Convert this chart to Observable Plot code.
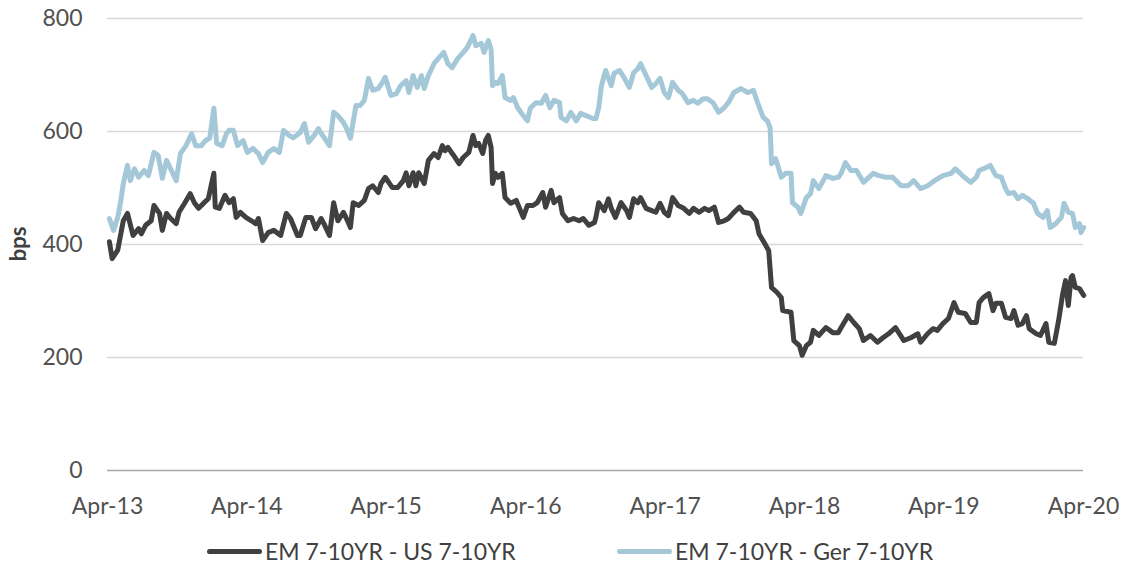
<!DOCTYPE html>
<html>
<head>
<meta charset="utf-8">
<script src="https://cdn.jsdelivr.net/npm/d3@7"></script>
<script src="https://cdn.jsdelivr.net/npm/@observablehq/plot@0.6"></script>
<style>
  html, body { margin: 0; padding: 0; background: #fff; }
  #wrap { position: relative; width: 1121px; height: 568px; font-family: Lato, "Open Sans", sans-serif; color: #505050; }
  .leg { position: absolute; top: 537px; display: flex; align-items: center; font-size: 23px; color: #404040; white-space: nowrap; }
  .sw { display: inline-block; width: 55px; height: 5px; border-radius: 3px; margin-right: 3px; }
</style>
</head>
<body>
<div id="wrap"></div>
<script>
// Series names (legend order)
const seriesNames = ["EM 7-10YR - US 7-10YR", "EM 7-10YR - Ger 7-10YR"];
const seriesColors = ["#404040", "#a5c8d8"];

// [decimal year, bps]
const usSeries = [
  [2013.26,405],[2013.28,375],[2013.32,390],[2013.36,442],[2013.39,455],[2013.43,416],[2013.47,428],[2013.49,419],
  [2013.52,434],[2013.56,442],[2013.58,469],[2013.62,455],[2013.64,425],[2013.67,455],[2013.70,446],[2013.74,437],
  [2013.76,457],[2013.80,473],[2013.84,490],[2013.87,474],[2013.90,464],[2013.94,474],[2013.97,481],[2014.01,526],
  [2014.02,466],[2014.05,464],[2014.09,487],[2014.12,474],[2014.15,481],[2014.17,448],[2014.20,457],[2014.24,448],
  [2014.28,442],[2014.31,437],[2014.33,446],[2014.36,407],[2014.40,421],[2014.44,425],[2014.49,416],[2014.53,455],
  [2014.56,446],[2014.61,416],[2014.63,416],[2014.67,448],[2014.71,448],[2014.74,428],[2014.78,446],[2014.80,437],
  [2014.84,416],[2014.87,474],[2014.90,442],[2014.94,457],[2014.97,442],[2014.99,430],[2015.01,474],[2015.05,469],
  [2015.09,478],[2015.12,499],[2015.15,504],[2015.19,492],[2015.21,508],[2015.24,519],[2015.29,501],[2015.33,501],
  [2015.37,513],[2015.39,527],[2015.41,504],[2015.44,527],[2015.46,504],[2015.48,527],[2015.52,508],[2015.55,549],
  [2015.59,561],[2015.62,554],[2015.65,575],[2015.67,566],[2015.69,572],[2015.73,558],[2015.77,543],[2015.80,554],
  [2015.84,563],[2015.87,593],[2015.89,575],[2015.91,579],[2015.94,561],[2015.96,584],[2015.98,593],[2016.00,572],
  [2016.01,508],[2016.03,526],[2016.05,519],[2016.08,526],[2016.10,483],[2016.14,473],[2016.18,478],[2016.20,466],
  [2016.23,448],[2016.26,469],[2016.30,469],[2016.33,474],[2016.37,492],[2016.39,466],[2016.43,496],[2016.45,474],
  [2016.49,483],[2016.51,455],[2016.55,442],[2016.59,446],[2016.63,442],[2016.66,446],[2016.70,434],[2016.74,439],
  [2016.75,448],[2016.77,474],[2016.81,460],[2016.84,481],[2016.86,464],[2016.89,448],[2016.93,474],[2016.97,460],
  [2016.99,448],[2017.02,481],[2017.05,474],[2017.07,483],[2017.11,464],[2017.15,460],[2017.18,457],[2017.21,473],
  [2017.24,457],[2017.27,451],[2017.30,483],[2017.34,469],[2017.38,464],[2017.42,455],[2017.45,464],[2017.49,457],
  [2017.53,464],[2017.56,460],[2017.60,466],[2017.63,439],[2017.67,442],[2017.70,446],[2017.74,457],[2017.78,466],
  [2017.81,457],[2017.86,455],[2017.90,442],[2017.92,419],[2017.96,402],[2017.99,389],[2018.01,324],[2018.05,315],
  [2018.08,306],[2018.09,283],[2018.15,280],[2018.17,230],[2018.21,221],[2018.23,204],[2018.26,221],[2018.29,227],
  [2018.31,248],[2018.35,239],[2018.40,253],[2018.45,244],[2018.49,244],[2018.51,253],[2018.56,274],[2018.60,262],
  [2018.64,251],[2018.67,230],[2018.72,239],[2018.77,227],[2018.81,235],[2018.85,242],[2018.90,253],[2018.96,230],
  [2019.01,235],[2019.06,242],[2019.08,227],[2019.13,242],[2019.17,251],[2019.20,248],[2019.24,260],[2019.28,269],
  [2019.32,297],[2019.35,280],[2019.40,278],[2019.44,262],[2019.48,262],[2019.50,297],[2019.53,306],[2019.57,313],
  [2019.60,283],[2019.62,296],[2019.66,296],[2019.69,271],[2019.73,269],[2019.75,283],[2019.78,257],[2019.81,260],
  [2019.84,274],[2019.86,251],[2019.91,242],[2019.94,239],[2019.98,260],[2020.00,227],[2020.04,225],[2020.07,265],
  [2020.10,313],[2020.12,336],[2020.14,292],[2020.16,342],[2020.17,345],[2020.19,324],[2020.22,322],[2020.25,310]
];

const gerSeries = [
  [2013.26,446],[2013.29,425],[2013.32,448],[2013.34,474],[2013.36,508],[2013.39,540],[2013.41,513],[2013.44,534],
  [2013.47,519],[2013.51,531],[2013.54,522],[2013.58,563],[2013.61,558],[2013.64,517],[2013.67,549],[2013.70,534],
  [2013.74,513],[2013.77,561],[2013.81,575],[2013.85,596],[2013.88,575],[2013.92,575],[2013.95,584],[2013.98,588],
  [2014.01,641],[2014.03,579],[2014.07,575],[2014.10,596],[2014.12,602],[2014.15,602],[2014.18,575],[2014.22,584],
  [2014.25,563],[2014.29,570],[2014.33,561],[2014.36,545],[2014.40,563],[2014.44,570],[2014.48,563],[2014.51,602],
  [2014.55,593],[2014.58,589],[2014.63,598],[2014.66,614],[2014.69,581],[2014.73,593],[2014.76,605],[2014.79,593],
  [2014.84,575],[2014.87,634],[2014.90,628],[2014.94,616],[2014.96,607],[2014.99,588],[2015.03,646],[2015.06,646],
  [2015.09,655],[2015.12,694],[2015.15,673],[2015.19,676],[2015.22,687],[2015.24,696],[2015.28,664],[2015.32,667],
  [2015.35,681],[2015.39,690],[2015.41,669],[2015.44,699],[2015.47,678],[2015.50,699],[2015.52,676],[2015.55,699],
  [2015.59,720],[2015.62,729],[2015.66,740],[2015.69,720],[2015.72,713],[2015.76,729],[2015.80,740],[2015.83,749],
  [2015.87,770],[2015.89,752],[2015.93,756],[2015.95,740],[2015.98,761],[2016.00,745],[2016.01,681],[2016.03,687],
  [2016.05,685],[2016.08,699],[2016.10,660],[2016.14,655],[2016.16,660],[2016.19,642],[2016.23,628],[2016.26,619],
  [2016.28,641],[2016.32,651],[2016.36,650],[2016.39,664],[2016.42,642],[2016.45,655],[2016.49,651],[2016.50,625],
  [2016.54,619],[2016.57,634],[2016.61,619],[2016.64,632],[2016.68,628],[2016.73,623],[2016.75,623],[2016.77,642],
  [2016.79,681],[2016.82,708],[2016.86,681],[2016.88,703],[2016.92,708],[2016.95,696],[2016.99,678],[2017.02,704],
  [2017.05,711],[2017.07,720],[2017.11,699],[2017.15,678],[2017.18,685],[2017.21,694],[2017.24,669],[2017.27,660],
  [2017.30,687],[2017.34,673],[2017.37,667],[2017.41,651],[2017.45,655],[2017.48,650],[2017.52,658],[2017.55,658],
  [2017.59,651],[2017.63,634],[2017.67,642],[2017.70,651],[2017.74,669],[2017.79,676],[2017.84,669],[2017.88,673],
  [2017.91,651],[2017.95,625],[2017.98,619],[2018.00,607],[2018.01,543],[2018.04,552],[2018.08,519],[2018.11,526],
  [2018.15,526],[2018.16,474],[2018.20,466],[2018.22,455],[2018.26,483],[2018.29,490],[2018.31,513],[2018.35,499],
  [2018.40,522],[2018.45,517],[2018.49,519],[2018.51,526],[2018.54,545],[2018.58,531],[2018.62,531],[2018.67,510],
  [2018.74,526],[2018.78,522],[2018.83,519],[2018.88,519],[2018.94,504],[2018.99,504],[2019.03,513],[2019.08,499],
  [2019.13,504],[2019.18,513],[2019.24,522],[2019.30,526],[2019.33,534],[2019.38,522],[2019.44,510],[2019.48,519],
  [2019.50,531],[2019.55,536],[2019.58,540],[2019.62,522],[2019.66,519],[2019.69,499],[2019.71,490],[2019.75,492],
  [2019.78,481],[2019.81,487],[2019.85,481],[2019.89,473],[2019.92,455],[2019.96,448],[2019.99,460],[2020.01,430],
  [2020.05,437],[2020.09,448],[2020.11,473],[2020.14,457],[2020.17,455],[2020.19,430],[2020.22,437],[2020.23,421],
  [2020.25,430]
];

// Axis ticks
const yTicks = [0, 200, 400, 600, 800];
const xTickYears = [2013, 2014, 2015, 2016, 2017, 2018, 2019, 2020];
const xTickMonth = 3; // April
const yLabel = "bps";

function fromDecimal(t) {
  const y = Math.floor(t);
  const a = new Date(y, 0, 1), b = new Date(y + 1, 0, 1);
  return new Date(+a + (t - y) * (b - a));
}
const toRows = (arr, name) => arr.map(([t, v]) => ({date: fromDecimal(t), value: v, series: name}));
const usData = toRows(usSeries, seriesNames[0]);
const gerData = toRows(gerSeries, seriesNames[1]);
const xTicks = xTickYears.map(y => new Date(y, xTickMonth, 1));

const chart = Plot.plot({
  width: 1121,
  height: 528,
  marginLeft: 107,
  marginRight: 38,
  marginTop: 18,
  marginBottom: 58,
  style: {fontFamily: "Lato, 'Open Sans', sans-serif", fontSize: "23px", color: "#505050", background: "#fff"},
  x: {type: "time", domain: [xTicks[0], xTicks[xTicks.length - 1]], ticks: xTicks,
      tickFormat: d3.timeFormat("%b-%y"), tickSize: 0, tickPadding: 27, label: null},
  y: {domain: [0, 800], ticks: yTicks, tickSize: 0, tickPadding: 25, label: null},
  marks: [
    Plot.ruleY(yTicks.filter(d => d > 0), {stroke: "#d9d9d9", strokeWidth: 1.3}),
    Plot.ruleY([0], {stroke: "#a6a6a6", strokeWidth: 1.5}),
    Plot.line(gerData, {x: "date", y: "value", stroke: seriesColors[1], strokeWidth: 5, strokeLinejoin: "round", strokeLinecap: "round"}),
    Plot.line(usData, {x: "date", y: "value", stroke: seriesColors[0], strokeWidth: 5, strokeLinejoin: "round", strokeLinecap: "round"})
  ]
});

d3.select(chart).append("text")
  .attr("transform", "translate(26,244) rotate(-90)")
  .attr("text-anchor", "middle")
  .attr("font-weight", "bold")
  .attr("font-size", "22px")
  .attr("fill", "#404040")
  .text(yLabel);

const wrap = document.getElementById("wrap");
wrap.appendChild(chart);

const legPos = [207, 617];
seriesNames.forEach((name, i) => {
  const item = document.createElement("div");
  item.className = "leg";
  item.style.left = legPos[i] + "px";
  const sw = document.createElement("span");
  sw.className = "sw";
  sw.style.background = seriesColors[i];
  const tx = document.createElement("span");
  tx.textContent = name;
  item.appendChild(sw);
  item.appendChild(tx);
  wrap.appendChild(item);
});
</script>
</body>
</html>
